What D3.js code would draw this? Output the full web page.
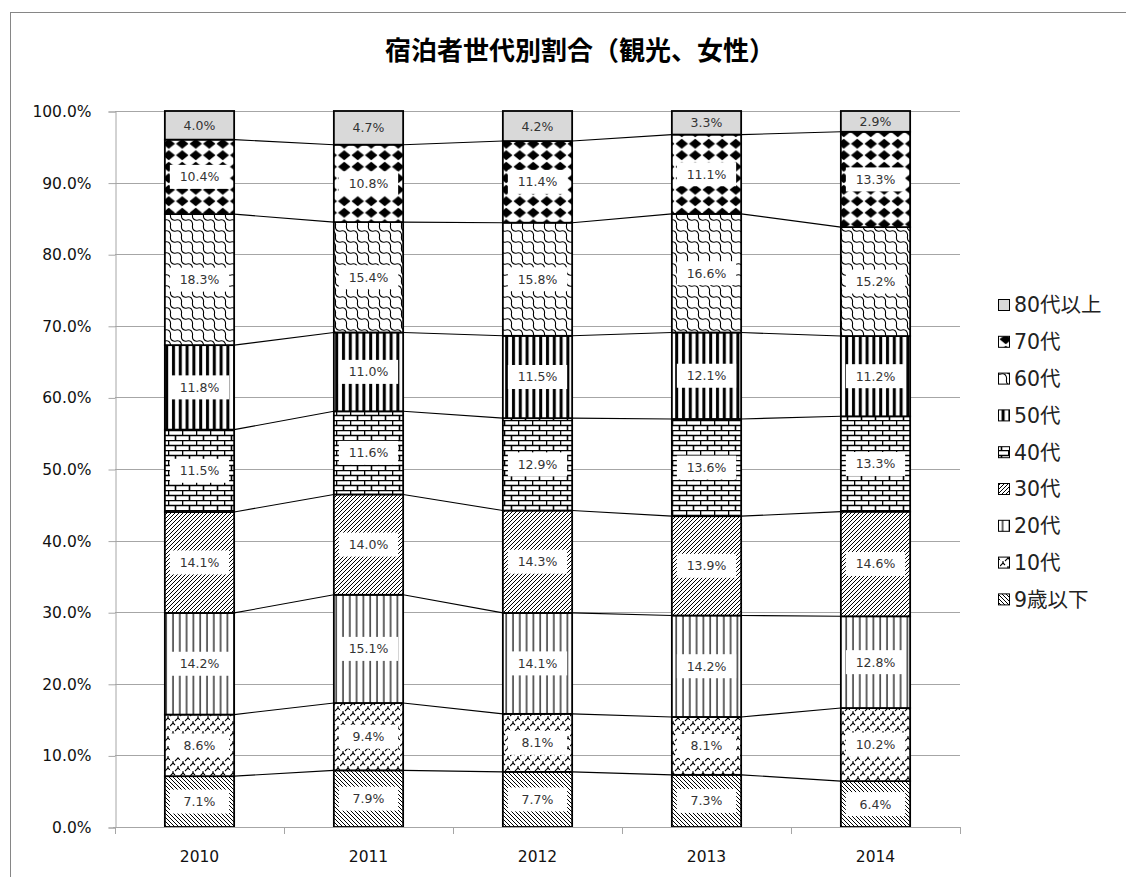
<!DOCTYPE html>
<html><head><meta charset="utf-8">
<script src="https://cdn.jsdelivr.net/npm/d3@7"></script>
<style>
body{margin:0;background:#fff;}
svg{display:block;}
text{font-family:"DejaVu Sans","Noto Sans CJK JP",sans-serif;}
</style></head>
<body>
<svg id="c" width="1126" height="877"></svg>
<script>
const title = "宿泊者世代別割合（観光、女性）";
const years = ["2010","2011","2012","2013","2014"];
const seriesNames = ["9歳以下","10代","20代","30代","40代","50代","60代","70代","80代以上"];
const v9  = [7.1, 7.9, 7.7, 7.3, 6.4];
const v10 = [8.6, 9.4, 8.1, 8.1, 10.2];
const v20 = [14.2, 15.1, 14.1, 14.2, 12.8];
const v30 = [14.1, 14.0, 14.3, 13.9, 14.6];
const v40 = [11.5, 11.6, 12.9, 13.6, 13.3];
const v50 = [11.8, 11.0, 11.5, 12.1, 11.2];
const v60 = [18.3, 15.4, 15.8, 16.6, 15.2];
const v70 = [10.4, 10.8, 11.4, 11.1, 13.3];
const v80 = [4.0, 4.7, 4.2, 3.3, 2.9];
const yTicks = [0,0.1,0.2,0.3,0.4,0.5,0.6,0.7,0.8,0.9,1.0];

const values = [v9,v10,v20,v30,v40,v50,v60,v70,v80];
const svg = d3.select("#c");

// chart frame
svg.append("rect").attr("x",10.5).attr("y",12.5).attr("width",1130).attr("height",880)
  .attr("fill","#fff").attr("stroke","#868686").attr("stroke-width",1);

// patterns
const defs = svg.append("defs");
function pat(id,w,h,draw){
  const p = defs.append("pattern").attr("id",id).attr("patternUnits","userSpaceOnUse")
    .attr("width",w).attr("height",h);
  p.append("rect").attr("width",w).attr("height",h).attr("fill","#fff");
  draw(p);
}
// 9歳以下: back diagonal
pat("p0",4,4,p=>{
  p.append("path").attr("d","M-1,-1L5,5M-1,3L1,5M3,-1L5,1").attr("stroke","#000").attr("stroke-width",1);
});
// 10代: zigzag divots
pat("p1",10,10,p=>{
  p.append("path").attr("d","M0,6L3,3L5,5M5,1L8,-2M5,11L8,8L10,10M0,1L-2,-1")
   .attr("stroke","#000").attr("stroke-width",1.1).attr("fill","none");
  p.append("path").attr("d","M3,3L3,1M8,8L8,6").attr("stroke","#000").attr("stroke-width",1.1);
});
// 20代: thin vertical
pat("p2",6.8,10,p=>{
  p.append("line").attr("x1",3).attr("x2",3).attr("y1",0).attr("y2",10).attr("stroke","#000").attr("stroke-width",1.2);
});
// 30代: forward diagonal
pat("p3",4,4,p=>{
  p.append("path").attr("d","M-1,5L5,-1M-1,1L1,-1M3,5L5,3").attr("stroke","#000").attr("stroke-width",1);
});
// 40代: horizontal brick
pat("p4",14,10,p=>{
  p.append("path").attr("d","M0,0.5H14M0,5.5H14M0.5,0V5M7.5,5V10")
   .attr("stroke","#000").attr("stroke-width",1.6).attr("fill","none");
});
// 50代: thick vertical
pat("p5",6.8,10,p=>{
  p.append("rect").attr("x",2).attr("y",0).attr("width",3).attr("height",10).attr("fill","#000");
});
// 60代: shingles (diagonal S-curves)
pat("p6",11,11,p=>{
  const d = "M0,0C4,-1 6,2 5.5,5.5C5,9 7,12 11,11";
  [[0,0],[-11,0],[0,-11],[11,0],[0,11]].forEach(t=>{
    p.append("path").attr("d",d).attr("transform",`translate(${t[0]},${t[1]})`)
     .attr("stroke","#000").attr("stroke-width",1.1).attr("fill","none");
  });
});
// 70代: solid diamonds
pat("p7",13.5,11.5,p=>{
  p.append("path").attr("d","M6.75,0.6L13,5.75L6.75,10.9L0.5,5.75Z").attr("fill","#000");
});
// 80代以上: solid light gray
pat("p8",10,10,p=>{
  p.append("rect").attr("width",10).attr("height",10).attr("fill","#d9d9d9");
});

// scales
const x = d3.scaleBand().domain(years).range([115,960]).paddingInner(0.59).paddingOuter(0.295);
const y = d3.scaleLinear().domain([0,1]).range([827,111]);

// gridlines
svg.append("g").selectAll("line").data(yTicks).join("line")
  .attr("x1",115).attr("x2",960).attr("y1",d=>Math.round(y(d))+0.5).attr("y2",d=>Math.round(y(d))+0.5)
  .attr("stroke","#a6a6a6").attr("stroke-width",1);

// y axis
const yAxis = d3.axisLeft(y).tickValues(yTicks).tickFormat(d3.format(".1%")).tickSize(7).tickPadding(17);
const gy = svg.append("g").attr("transform","translate(115.5,0.5)").call(yAxis);
gy.select(".domain").attr("stroke","#a6a6a6");
gy.selectAll(".tick line").attr("stroke","#a6a6a6");
gy.selectAll(".tick text").attr("font-size",15.5).attr("fill","#111").attr("font-family","DejaVu Sans");

// stacked data (100% stacked)
const rows = years.map((yr,i)=>{
  const o = {year:yr};
  seriesNames.forEach((s,k)=>o[s]=values[k][i]);
  return o;
});
const stack = d3.stack().keys(seriesNames).offset(d3.stackOffsetExpand);
const layers = stack(rows);

// connector lines
const bw = x.bandwidth();
layers.forEach((layer,k)=>{
  if(k===layers.length-1) return;
  for(let i=0;i<years.length-1;i++){
    svg.append("line")
      .attr("x1",x(years[i])+bw).attr("y1",y(layer[i][1]))
      .attr("x2",x(years[i+1])).attr("y2",y(layer[i+1][1]))
      .attr("stroke","#000").attr("stroke-width",1.1);
  }
});

// bars
const gBars = svg.append("g");
layers.forEach((layer,k)=>{
  gBars.append("g").selectAll("rect").data(layer).join("rect")
    .attr("x",(d,i)=>x(years[i]))
    .attr("y",d=>y(d[1]))
    .attr("width",bw)
    .attr("height",d=>y(d[0])-y(d[1]))
    .attr("fill",`url(#p${k})`)
    .attr("stroke","#000").attr("stroke-width",1.8);
});

// labels
const gLab = svg.append("g");
layers.forEach((layer,k)=>{
  layer.forEach((d,i)=>{
    const val = values[k][i];
    const cx = x(years[i])+bw/2;
    const cy = (y(d[0])+y(d[1]))/2;
    const txt = val.toFixed(1)+"%";
    const w = bw-10;
    const h = 24;
    if(k!==8){
      gLab.append("rect").attr("x",cx-w/2).attr("y",cy-h/2).attr("width",w).attr("height",h).attr("fill","#fff");
    }
    gLab.append("text").attr("x",cx).attr("y",cy).attr("dy","0.36em").attr("text-anchor","middle")
      .attr("font-size",12.5).attr("fill","#333").text(txt);
  });
});

// x axis
svg.append("line").attr("x1",113).attr("x2",960).attr("y1",827.5).attr("y2",827.5).attr("stroke","#a6a6a6");
const bounds = d3.range(years.length+1).map(i=>115+i*x.step());
svg.append("g").selectAll("line").data(bounds).join("line")
  .attr("x1",d=>Math.round(d)+0.5).attr("x2",d=>Math.round(d)+0.5).attr("y1",827).attr("y2",834)
  .attr("stroke","#a6a6a6");
svg.append("g").selectAll("text").data(years).join("text")
  .attr("x",d=>x(d)+bw/2).attr("y",862).attr("text-anchor","middle")
  .attr("font-size",15.5).attr("fill","#111").text(d=>d);

// title
svg.append("text").attr("x",580).attr("y",60).attr("text-anchor","middle")
  .attr("font-family","Noto Sans CJK JP").attr("font-weight","bold").attr("font-size",26)
  .attr("fill","#000").text(title);

// legend
const legendOrder = seriesNames.map((s,k)=>({s,k})).reverse();
const gL = svg.append("g");
legendOrder.forEach((d,j)=>{
  const cy = 305 + j*36.8;
  gL.append("rect").attr("x",998.5).attr("y",cy-5.5).attr("width",11).attr("height",11)
    .attr("fill",`url(#p${d.k})`).attr("stroke","#000").attr("stroke-width",1);
  gL.append("text").attr("x",1014).attr("y",cy).attr("dy","0.36em")
    .attr("font-family","Noto Sans CJK JP").attr("font-size",20.5).attr("fill","#222").text(d.s);
});
</script>
</body></html>
